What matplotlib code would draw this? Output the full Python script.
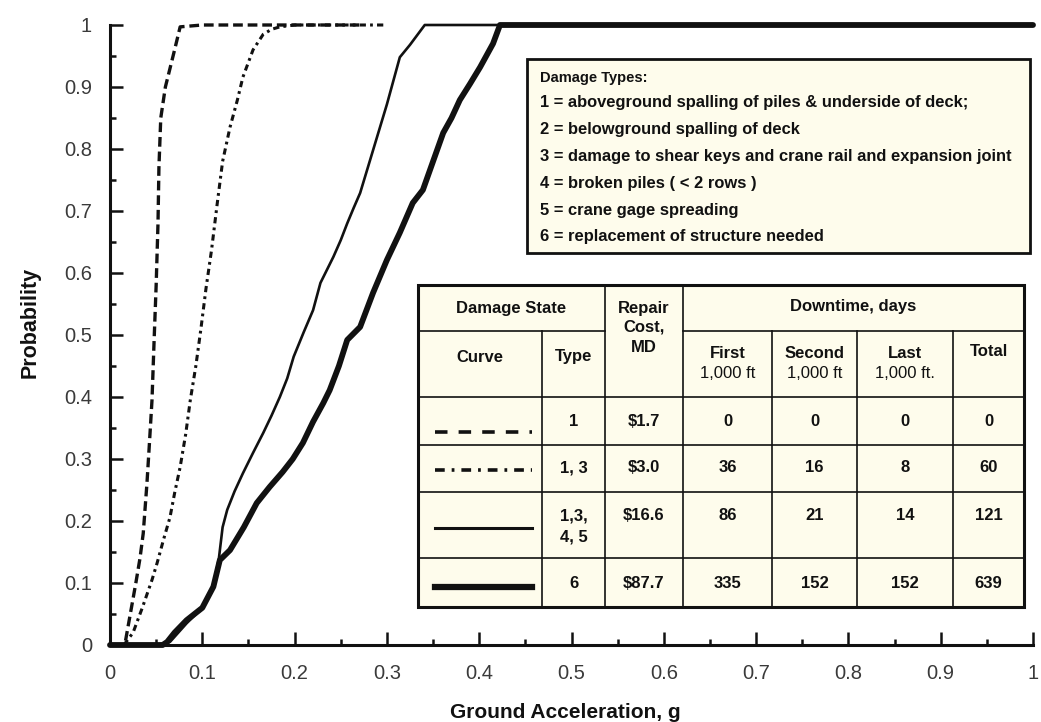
import matplotlib
matplotlib.use("Agg")
import matplotlib.pyplot as plt
from matplotlib.patches import Rectangle
from matplotlib.ticker import FixedLocator, FixedFormatter

plt.rcParams['lines.scale_dashes'] = False
plt.rcParams['font.family'] = ['Liberation Sans', 'DejaVu Sans']

# ---------------- data ----------------
x_ticks = [0, 0.1, 0.2, 0.3, 0.4, 0.5, 0.6, 0.7, 0.8, 0.9, 1.0]
x_tick_labels = ['0', '0.1', '0.2', '0.3', '0.4', '0.5', '0.6', '0.7', '0.8', '0.9', '1']
y_ticks = [0, 0.1, 0.2, 0.3, 0.4, 0.5, 0.6, 0.7, 0.8, 0.9, 1.0]
y_tick_labels = ['0', '0.1', '0.2', '0.3', '0.4', '0.5', '0.6', '0.7', '0.8', '0.9', '1']

# Curve 1 (dashed) : damage type 1
c1_x = [0.005, 0.016, 0.022, 0.028, 0.0325, 0.036, 0.040, 0.0425, 0.0455, 0.048,
        0.050, 0.052, 0.053, 0.055, 0.060, 0.065, 0.070, 0.076, 0.10, 0.20, 0.27]
c1_y = [0.0, 0.0, 0.05, 0.10, 0.14, 0.18, 0.26, 0.32, 0.395, 0.50,
        0.58, 0.68, 0.77, 0.85, 0.90, 0.93, 0.96, 0.997, 1.0, 1.0, 1.0]

# Curve 2 (dash-dot) : damage types 1, 3
c2_x = [0.015, 0.025, 0.035, 0.0455, 0.051, 0.058, 0.065, 0.070, 0.076, 0.082,
        0.087, 0.093, 0.0985, 0.104, 0.110, 0.116, 0.122, 0.130, 0.138, 0.144,
        0.155, 0.166, 0.175, 0.184, 0.200, 0.250, 0.300]
c2_y = [0.0, 0.02, 0.06, 0.105, 0.132, 0.17, 0.206, 0.245, 0.287, 0.34,
        0.395, 0.45, 0.51, 0.575, 0.637, 0.71, 0.78, 0.835, 0.879, 0.916,
        0.96, 0.985, 0.993, 0.997, 1.0, 1.0, 1.0]

# Curve 3 (thin solid) : damage types 1, 3, 4, 5
c3_x = [0.03, 0.05, 0.065, 0.083, 0.100, 0.112, 0.118, 0.122, 0.127, 0.135,
        0.144, 0.155, 0.166, 0.175, 0.184, 0.192, 0.199, 0.210, 0.220, 0.228,
        0.235, 0.242, 0.250, 0.257, 0.264, 0.271, 0.285, 0.300, 0.314, 0.325,
        0.341, 1.0]
c3_y = [0.0, 0.0, 0.005, 0.035, 0.06, 0.095, 0.14, 0.19, 0.218, 0.248,
        0.277, 0.31, 0.342, 0.37, 0.40, 0.43, 0.465, 0.505, 0.54, 0.584,
        0.605, 0.626, 0.653, 0.68, 0.705, 0.729, 0.798, 0.872, 0.948, 0.968,
        1.0, 1.0]

# Curve 4 (thick solid) : damage type 6
c4_x = [0.0, 0.03, 0.057, 0.062, 0.070, 0.083, 0.100, 0.112, 0.119, 0.130,
        0.145, 0.159, 0.173, 0.187, 0.198, 0.209, 0.220, 0.231, 0.238, 0.248,
        0.257, 0.271, 0.285, 0.300, 0.314, 0.328, 0.339, 0.350, 0.361, 0.370,
        0.379, 0.390, 0.401, 0.415, 0.4225, 1.0]
c4_y = [0.0, 0.0, 0.0, 0.005, 0.02, 0.04, 0.06, 0.094, 0.137, 0.153,
        0.19, 0.229, 0.255, 0.279, 0.30, 0.326, 0.36, 0.39, 0.411, 0.45,
        0.492, 0.513, 0.568, 0.621, 0.665, 0.713, 0.734, 0.78, 0.826, 0.85,
        0.879, 0.905, 0.932, 0.97, 1.0, 1.0]

damage_types_title = "Damage Types:"
damage_types = [
    "1 = aboveground spalling of piles & underside of deck;",
    "2 = belowground spalling of deck",
    "3 = damage to shear keys and crane rail and expansion joint",
    "4 = broken piles ( < 2 rows )",
    "5 = crane gage spreading",
    "6 = replacement of structure needed",
]

table_types = ["1", "1, 3", "1,3,\n4, 5", "6"]
table_cost = ["$1.7", "$3.0", "$16.6", "$87.7"]
table_first = ["0", "36", "86", "335"]
table_second = ["0", "16", "21", "152"]
table_last = ["0", "8", "14", "152"]
table_total = ["0", "60", "121", "639"]

INK = '#111111'
CREAM = '#FEFCEC'

# ---------------- figure ----------------
W, H = 1041, 722
fig = plt.figure(figsize=(W / 100, H / 100), dpi=100)
fig.patch.set_facecolor('white')

ax = fig.add_axes([110 / W, 1 - 645 / H, (1033 - 110) / W, (645 - 25) / H])
ax.set_xlim(0, 1)
ax.set_ylim(0, 1)
ax.set_facecolor('white')
for s in ['top', 'right']:
    ax.spines[s].set_visible(False)
for s in ['left', 'bottom']:
    ax.spines[s].set_linewidth(2.2)
    ax.spines[s].set_color(INK)

ax.xaxis.set_major_locator(FixedLocator(x_ticks))
ax.xaxis.set_major_formatter(FixedFormatter(x_tick_labels))
ax.yaxis.set_major_locator(FixedLocator(y_ticks))
ax.yaxis.set_major_formatter(FixedFormatter(y_tick_labels))
ax.set_xticks([t + 0.05 for t in x_ticks[:-1]], minor=True)
ax.set_yticks([t + 0.05 for t in y_ticks[:-1]], minor=True)
ax.tick_params(which='major', direction='in', length=9.5, width=1.8, color=INK,
               labelsize=14.5, labelcolor='#3a3a3a')
ax.tick_params(which='minor', direction='in', length=4.5, width=1.8, color=INK)
ax.tick_params(axis='y', which='major', pad=13)
ax.tick_params(axis='x', which='major', pad=14)

ax.plot(c1_x, c1_y, color=INK, lw=2.4, dashes=(7, 3.5), clip_on=False, zorder=3)
ax.plot(c2_x, c2_y, color=INK, lw=2.2, dashes=(4.5, 3, 2, 3), clip_on=False, zorder=3)
ax.plot(c3_x, c3_y, color=INK, lw=1.9, clip_on=False, zorder=3)
ax.plot(c4_x, c4_y, color=INK, lw=4.2, clip_on=False, zorder=4,
        solid_joinstyle='round', solid_capstyle='round')

ax.set_xlabel('Ground Acceleration, g', fontsize=15, fontweight='bold', color=INK,
              va='center')
ax.xaxis.set_label_coords((565 - 110) / 923, (645 - 712) / 620)
ax.set_ylabel('Probability', fontsize=15.5, fontweight='bold', color=INK, va='center')
ax.yaxis.set_label_coords((30 - 110) / 923, (645 - 322) / 620)

# ---------------- overlay (pixel coordinates) ----------------
ov = fig.add_axes([0, 0, 1, 1], zorder=10)
ov.set_xlim(0, W)
ov.set_ylim(H, 0)
ov.axis('off')

# Damage types box
ov.add_patch(Rectangle((527, 59), 503, 194, facecolor=CREAM, edgecolor=INK, lw=2.0))
ov.text(540, 78, damage_types_title, fontsize=10.5, fontweight='bold', color=INK,
        ha='left', va='center')
for i, line in enumerate(damage_types):
    ov.text(540, 103 + i * 26.8, line, fontsize=11.9, fontweight='bold', color=INK,
            ha='left', va='center')

# Table
tl, tr, tt, tb = 418, 1024, 285, 607
col_edges = [418, 542, 605, 683, 772, 857, 953, 1024]
row_edges = [285, 331, 397, 445, 492, 558, 607]
ov.add_patch(Rectangle((tl, tt), tr - tl, tb - tt, facecolor=CREAM, edgecolor=INK, lw=2.2))
lw_in = 1.2
# horizontal rules
ov.plot([col_edges[0], col_edges[2]], [row_edges[1]] * 2, color=INK, lw=lw_in)
ov.plot([col_edges[3], col_edges[7]], [row_edges[1]] * 2, color=INK, lw=lw_in)
for r in row_edges[2:-1]:
    ov.plot([tl, tr], [r, r], color=INK, lw=lw_in)
# vertical rules
ov.plot([col_edges[1]] * 2, [row_edges[1], tb], color=INK, lw=lw_in)
ov.plot([col_edges[2]] * 2, [tt, tb], color=INK, lw=lw_in)
ov.plot([col_edges[3]] * 2, [tt, tb], color=INK, lw=lw_in)
for c in col_edges[4:7]:
    ov.plot([c, c], [row_edges[1], tb], color=INK, lw=lw_in)

def cx(i):
    return (col_edges[i] + col_edges[i + 1]) / 2

fs = 12
bold = dict(fontsize=fs, fontweight='bold', color=INK, ha='center', va='center')
reg = dict(fontsize=fs, color=INK, ha='center', va='center')

ov.text((col_edges[0] + col_edges[2]) / 2, 309, 'Damage State', **bold)
for k, w in enumerate(['Repair', 'Cost,', 'MD']):
    ov.text(cx(2), 308 + k * 19.5, w, **bold)
ov.text((col_edges[3] + col_edges[7]) / 2, 307, 'Downtime, days', **bold)
ov.text(cx(0), 357, 'Curve', **bold)
ov.text(cx(1), 357, 'Type', **bold)
sub_heads = [('First', '1,000 ft'), ('Second', '1,000 ft'), ('Last', '1,000 ft.')]
for k, (a, b) in enumerate(sub_heads):
    ov.text(cx(3 + k), 353, a, **bold)
    ov.text(cx(3 + k), 374, b, **reg)
ov.text(cx(6), 352, 'Total', **bold)

row_text_y = [422, 468, 516, 583]
cols = [table_types, table_cost, table_first, table_second, table_last, table_total]
for j, col in enumerate(cols):
    for i, val in enumerate(col):
        for k, part in enumerate(val.split('\n')):
            ov.text(cx(1 + j), row_text_y[i] + k * 21, part, **bold)

# legend samples in "Curve" column
sx0, sx1 = 435, 532
ov.plot([sx0, sx1], [432, 432], color=INK, lw=2.6, dashes=(9, 8))
ov.plot([sx0, sx1], [470, 470], color=INK, lw=2.6, dashes=(7, 5, 2, 5))
ov.plot([sx0, sx1], [528, 528], color=INK, lw=2.2)
ov.plot([sx0, sx1], [587, 587], color=INK, lw=4.5)

fig.savefig('out.png', dpi=100)
